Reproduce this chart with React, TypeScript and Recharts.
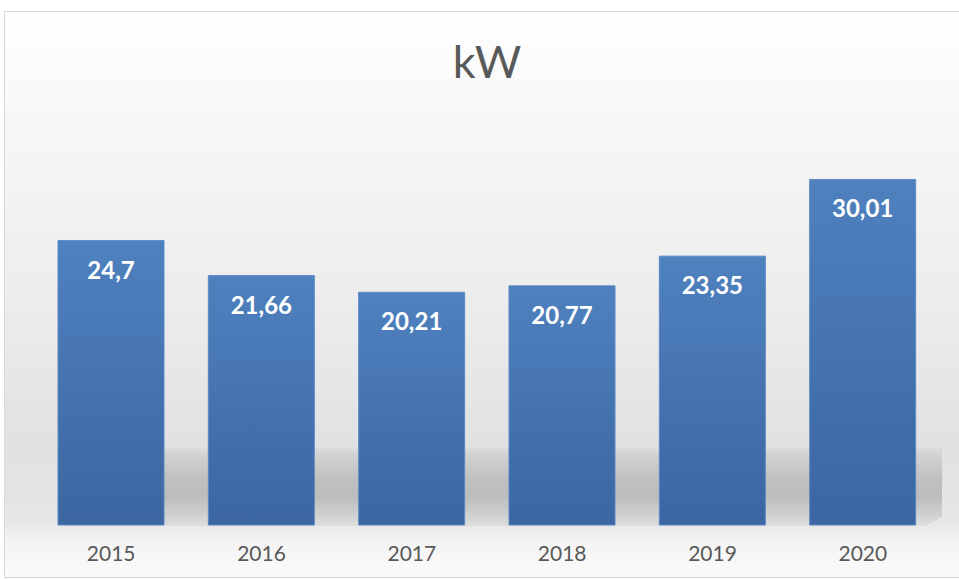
import { BarChart, Bar, XAxis, YAxis, LabelList } from 'recharts';

const years = ['2015', '2016', '2017', '2018', '2019', '2020'];
const kwValues = [24.7, 21.66, 20.21, 20.77, 23.35, 30.01];

const data = years.map((year, i) => ({ year, kw: kwValues[i] }));

const FONT = 'Lato, "Open Sans", "Liberation Sans", sans-serif';

const formatKw = (v: any) => String(v).replace('.', ',');

export default function App() {
  return (
    <div style={{ position: 'absolute', left: 0, top: 0, width: 959, height: 579, background: '#fff', overflow: 'hidden' }}>
      {/* chart area background + frame */}
      <div
        style={{
          position: 'absolute',
          left: 4,
          top: 11,
          width: 970,
          height: 565,
          border: '1px solid #d9d9d9',
          background:
            'linear-gradient(to bottom, #ffffff 0%, #f7f7f7 20%, #ebebeb 55%, #e1e1e1 77%, #e6e6e6 90%, #f4f4f4 94%, #fbfbfb 100%)',
        }}
      />
      {/* floor shadow behind the bars */}
      <div
        style={{
          position: 'absolute',
          left: 160,
          top: 432,
          width: 782,
          height: 94,
          background:
            'linear-gradient(to bottom, rgba(220,220,220,0) 0%, rgba(220,220,220,0) 15%, #d4d4d4 22%, #c0c0c0 50%, #bcbcbc 68%, #d0d0d0 88%, #dedede 100%)',
          clipPath: 'polygon(0% 17%, 97% 17%, 100% 0%, 100% 90%, 98% 100%, 0% 100%)',
        }}
      />
      <div
        style={{
          position: 'absolute',
          left: 0,
          width: 974,
          top: 31,
          textAlign: 'center',
          fontFamily: FONT,
          fontWeight: 400,
          fontSize: 45,
          lineHeight: '60px',
          color: '#595959',
        }}
      >
        kW
      </div>
      <div style={{ position: 'absolute', left: 0, top: 0 }}>
        <BarChart
          width={959}
          height={579}
          data={data}
          margin={{ top: 122, right: 21, bottom: 0, left: 36 }}
          barCategoryGap={22}
        >
          <defs>
            <linearGradient id="barFill" x1="0" y1="0" x2="0" y2="1">
              <stop offset="0%" stopColor="#4f81bf" />
              <stop offset="100%" stopColor="#3b66a1" />
            </linearGradient>
          </defs>
          <XAxis
            dataKey="year"
            height={54}
            axisLine={false}
            tickLine={false}
            tickSize={0}
            tickMargin={21}
            tick={{ fill: '#595959', fontSize: 21, fontFamily: FONT }}
          />
          <YAxis hide domain={[0, 35]} />
          <Bar dataKey="kw" fill="url(#barFill)" stroke="#5a8ac6" strokeWidth={1} isAnimationActive={false}>
            <LabelList
              dataKey="kw"
              position="insideTop"
              offset={21}
              formatter={formatKw}
              fill="#ffffff"
              style={{ fontWeight: 700, fontSize: 24, fontFamily: FONT }}
            />
          </Bar>
        </BarChart>
      </div>
    </div>
  );
}
